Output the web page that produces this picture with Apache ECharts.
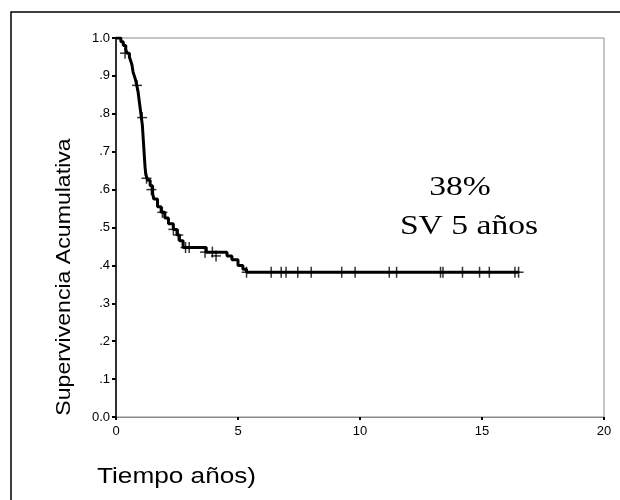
<!DOCTYPE html>
<html><head><meta charset="utf-8">
<script src="https://cdn.jsdelivr.net/npm/echarts@6/dist/echarts.min.js"></script>
<style>html,body{margin:0;padding:0;background:#fff}#c{width:620px;height:500px}</style>
</head><body><div id="c"></div>
<script>
// Kaplan-Meier step curve: event times (years) and survival after each event
var stepTimes = [0, 0.2, 0.3, 0.4, 0.45, 0.55, 0.6, 0.65, 0.7, 0.75, 0.8, 0.85, 0.9, 0.93, 0.96, 1.0, 1.04, 1.08, 1.1, 1.12, 1.15, 1.17, 1.19, 1.22, 1.3, 1.4, 1.5, 1.55, 1.7, 1.85, 2.0, 2.15, 2.35, 2.5, 2.6, 2.75, 3.7, 4.55, 4.75, 5.0, 5.2, 5.35, 16.5];
var stepSurv  = [1.0, 0.99, 0.98, 0.97, 0.96, 0.95, 0.94, 0.93, 0.91, 0.90, 0.89, 0.875, 0.86, 0.845, 0.83, 0.81, 0.79, 0.77, 0.75, 0.73, 0.70, 0.68, 0.66, 0.64, 0.625, 0.61, 0.59, 0.575, 0.555, 0.54, 0.525, 0.51, 0.495, 0.48, 0.465, 0.447, 0.435, 0.425, 0.415, 0.40, 0.39, 0.382, 0.382];
// censored observations (+ marks)
var censTimes = [0.37, 0.86, 1.07, 1.25, 1.45, 1.9, 2.35, 2.55, 2.85, 3.0, 3.65, 3.95, 4.1, 5.35, 6.36, 6.77, 6.97, 7.45, 8.0, 9.25, 9.8, 11.2, 11.5, 13.3, 13.4, 14.2, 14.9, 15.3, 16.35, 16.5];
var censSurv  = [0.96, 0.875, 0.79, 0.63, 0.60, 0.54, 0.495, 0.48, 0.447, 0.447, 0.435, 0.435, 0.425, 0.382, 0.382, 0.382, 0.382, 0.382, 0.382, 0.382, 0.382, 0.382, 0.382, 0.382, 0.382, 0.382, 0.382, 0.382, 0.382, 0.382];
var xTicks = [0, 5, 10, 15, 20];
var yTickLabels = ['0.0', '.1', '.2', '.3', '.4', '.5', '.6', '.7', '.8', '.9', '1.0'];
var annot1 = '38%';
var annot2 = 'SV 5 años';
var yTitle = 'Supervivencia Acumulativa';
var xTitle = 'Tiempo años)';

var curve = stepTimes.map(function (t, i) { return [t, stepSurv[i]]; });
var cens = censTimes.map(function (t, i) { return [t, censSurv[i]]; });

var chart = echarts.init(document.getElementById('c'));
chart.setOption({
  animation: false,
  backgroundColor: '#fff',
  grid: { left: 116, top: 38, right: 16, bottom: 83, show: true, borderColor: '#8a8a8a', borderWidth: 1 },
  xAxis: {
    type: 'value', min: 0, max: 20, interval: 5,
    axisLine: { show: true, lineStyle: { color: '#8a8a8a', width: 1 } },
    axisTick: { show: true, length: 3, lineStyle: { color: '#000', width: 2 } },
    axisLabel: { color: '#000', fontFamily: 'Liberation Sans', fontSize: 13, margin: 8,
      formatter: function (v) { return xTicks.indexOf(v) >= 0 ? String(v) : ''; } },
    splitLine: { show: false }
  },
  yAxis: {
    type: 'value', min: 0, max: 1, interval: 0.1,
    axisLine: { show: true, lineStyle: { color: '#000', width: 1.5 } },
    axisTick: { show: true, length: 4, lineStyle: { color: '#000', width: 2 } },
    axisLabel: { color: '#000', fontFamily: 'Liberation Sans', fontSize: 13, margin: 6,
      formatter: function (v) { return yTickLabels[Math.round(v * 10)]; } },
    splitLine: { show: false }
  },
  series: [
    { type: 'line', data: curve, step: 'end', symbol: 'none',
      lineStyle: { color: '#000', width: 3 }, z: 3 },
    { type: 'scatter', data: cens, symbol: 'rect', symbolSize: [1.5, 11],
      itemStyle: { color: '#000' }, z: 4 },
    { type: 'scatter', data: cens, symbol: 'rect', symbolSize: [10, 1.5],
      itemStyle: { color: '#000' }, z: 4 }
  ],
  graphic: [
    { type: 'rect', shape: { x: 11, y: 12, width: 640, height: 520 }, silent: true,
      style: { fill: 'none', stroke: '#000', lineWidth: 1.5 } },
    { type: 'text', x: 460, y: 188, scaleX: 1.2,
      style: { text: annot1, font: '28px "Liberation Serif"', fill: '#000', align: 'center', verticalAlign: 'middle' } },
    { type: 'text', x: 469, y: 227, scaleX: 1.2,
      style: { text: annot2, font: '28px "Liberation Serif"', fill: '#000', align: 'center', verticalAlign: 'middle' } },
    { type: 'text', x: 64, y: 277, rotation: Math.PI / 2, scaleX: 1.1,
      style: { text: yTitle, font: '21px "Liberation Sans"', fill: '#000', align: 'center', verticalAlign: 'middle' } },
    { type: 'text', x: 97, y: 477, scaleX: 1.19,
      style: { text: xTitle, font: '22px "Liberation Sans"', fill: '#000', align: 'left', verticalAlign: 'middle' } }
  ]
});
</script></body></html>
